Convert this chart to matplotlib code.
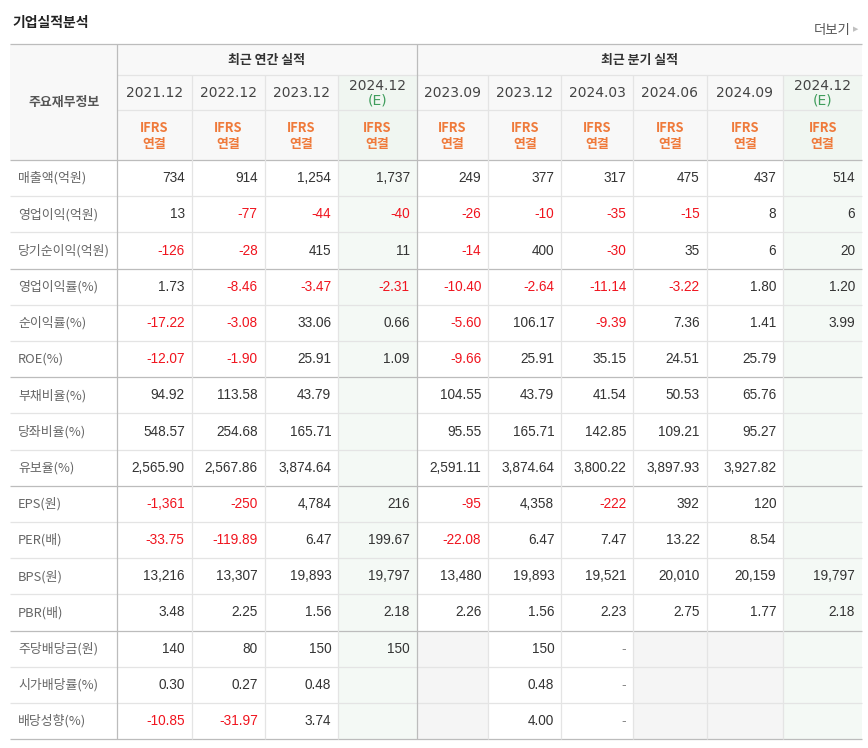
import matplotlib
matplotlib.use("Agg")
import matplotlib.pyplot as plt
from matplotlib.patches import Rectangle

plt.rcParams['font.family'] = ['Noto Sans CJK KR', 'DejaVu Sans']

# ---------------- data ----------------
title = "기업실적분석"
more_label = "더보기"
annual_group = "최근 연간 실적"
quarter_group = "최근 분기 실적"
corner_label = "주요재무정보"
annual_periods = ["2021.12", "2022.12", "2023.12", "2024.12"]
quarter_periods = ["2023.09", "2023.12", "2024.03", "2024.06", "2024.09", "2024.12"]
annual_estimate = [False, False, False, True]
quarter_estimate = [False, False, False, False, False, True]
basis_label = "IFRS\n연결"

row_labels = ["매출액(억원)", "영업이익(억원)", "당기순이익(억원)",
              "영업이익률(%)", "순이익률(%)", "ROE(%)",
              "부채비율(%)", "당좌비율(%)", "유보율(%)",
              "EPS(원)", "PER(배)", "BPS(원)", "PBR(배)",
              "주당배당금(원)", "시가배당률(%)", "배당성향(%)"]
row_decimals = [0, 0, 0, 2, 2, 2, 2, 2, 2, 0, 2, 0, 2, 0, 2, 2]
group_ends = [3, 6, 9, 13, 16]

sales       = [734, 914, 1254, 1737, 249, 377, 317, 475, 437, 514]
op_income   = [13, -77, -44, -40, -26, -10, -35, -15, 8, 6]
net_income  = [-126, -28, 415, 11, -14, 400, -30, 35, 6, 20]
op_margin   = [1.73, -8.46, -3.47, -2.31, -10.40, -2.64, -11.14, -3.22, 1.80, 1.20]
net_margin  = [-17.22, -3.08, 33.06, 0.66, -5.60, 106.17, -9.39, 7.36, 1.41, 3.99]
roe         = [-12.07, -1.90, 25.91, 1.09, -9.66, 25.91, 35.15, 24.51, 25.79, None]
debt_ratio  = [94.92, 113.58, 43.79, None, 104.55, 43.79, 41.54, 50.53, 65.76, None]
quick_ratio = [548.57, 254.68, 165.71, None, 95.55, 165.71, 142.85, 109.21, 95.27, None]
reserve     = [2565.90, 2567.86, 3874.64, None, 2591.11, 3874.64, 3800.22, 3897.93, 3927.82, None]
eps         = [-1361, -250, 4784, 216, -95, 4358, -222, 392, 120, None]
per         = [-33.75, -119.89, 6.47, 199.67, -22.08, 6.47, 7.47, 13.22, 8.54, None]
bps         = [13216, 13307, 19893, 19797, 13480, 19893, 19521, 20010, 20159, 19797]
pbr         = [3.48, 2.25, 1.56, 2.18, 2.26, 1.56, 2.23, 2.75, 1.77, 2.18]
dps         = [140, 80, 150, 150, None, 150, '-', None, None, None]
div_yield   = [0.30, 0.27, 0.48, None, None, 0.48, '-', None, None, None]
payout      = [-10.85, -31.97, 3.74, None, None, 4.00, '-', None, None, None]

table_rows = [sales, op_income, net_income, op_margin, net_margin, roe,
              debt_ratio, quick_ratio, reserve, eps, per, bps, pbr,
              dps, div_yield, payout]

# ---------------- layout / style ----------------
W, H = 868, 748
x_left = 10
label_w = 107.3
col_w = [74.4, 73.0, 73.6, 78.4, 71.6, 73.0, 72.0, 73.4, 76.6, 78.7]
y_top = 44
y_group = 75
y_date = 110
y_head = 160
row_h = 36.2

C_HEAD_BG = "#f8f8f8"
C_EST_HEAD = "#f0f6f1"
C_EST_BG = "#f4f9f5"
C_EMPTY = "#f5f5f5"
C_MAJOR = "#bcbcbc"
C_MINOR = "#e4e4e4"
C_TEXT = "#333333"
C_LABEL = "#666666"
C_RED = "#f0141e"
C_ORANGE = "#ef7a3b"
C_GREEN = "#3f9d5c"

fig = plt.figure(figsize=(W / 100, H / 100), dpi=100)
ax = fig.add_axes([0, 0, 1, 1])
ax.set_xlim(0, W)
ax.set_ylim(H, 0)
ax.axis("off")

col_x = [x_left + label_w]
for w in col_w:
    col_x.append(col_x[-1] + w)
x_right = col_x[-1]
n_annual = len(annual_periods)
estimates = annual_estimate + quarter_estimate
periods = annual_periods + quarter_periods
n_rows = len(row_labels)
y_bottom = y_head + n_rows * row_h

def hline(y, x0, x1, c):
    ax.plot([x0, x1], [y, y], color=c, lw=0.9, solid_capstyle="butt", zorder=3)

def vline(x, y0, y1, c):
    ax.plot([x, x], [y0, y1], color=c, lw=0.9, solid_capstyle="butt", zorder=3)

# header background
ax.add_patch(Rectangle((x_left, y_top), x_right - x_left, y_head - y_top,
                       facecolor=C_HEAD_BG, edgecolor="none", zorder=1))
for j, est in enumerate(estimates):
    if est:
        ax.add_patch(Rectangle((col_x[j], y_group), col_w[j], y_head - y_group,
                               facecolor=C_EST_HEAD, edgecolor="none", zorder=1.5))
        ax.add_patch(Rectangle((col_x[j], y_head), col_w[j], y_bottom - y_head,
                               facecolor=C_EST_BG, edgecolor="none", zorder=1.5))

# empty cell backgrounds
for i, row in enumerate(table_rows):
    for j, v in enumerate(row):
        if v is None and not estimates[j]:
            ax.add_patch(Rectangle((col_x[j], y_head + i * row_h), col_w[j], row_h,
                                   facecolor=C_EMPTY, edgecolor="none", zorder=1.5))

# grid lines
hline(y_top, x_left, x_right, C_MAJOR)
hline(y_group, col_x[0], x_right, C_MINOR)
hline(y_date, col_x[0], x_right, C_MINOR)
hline(y_head, x_left, x_right, C_MAJOR)
for i in range(1, n_rows + 1):
    y = y_head + i * row_h
    hline(y, x_left, x_right, C_MAJOR if i in group_ends else C_MINOR)
for j in range(1, len(col_w)):
    if j == n_annual:
        vline(col_x[j], y_top, y_bottom, C_MAJOR)
    else:
        vline(col_x[j], y_group, y_bottom, C_MINOR)
vline(col_x[0], y_top, y_bottom, C_MAJOR)

# title
ax.text(12, 23, title, fontsize=10, fontweight="bold", color="#222222",
        ha="left", va="center")
ax.text(850, 29.5, more_label, fontsize=9.6, color="#555555", ha="right", va="center")
ax.text(853, 29.5, "▶", fontsize=5, color="#c0c0c0", ha="left", va="center",
        family=["DejaVu Sans"])

# header texts
ax.text((x_left + col_x[0]) / 2, (y_top + y_head) / 2, corner_label, fontsize=9.3,
        fontweight="bold", color="#555555", ha="center", va="center")
ax.text((col_x[0] + col_x[n_annual]) / 2, (y_top + y_group) / 2, annual_group,
        fontsize=9.3, fontweight="bold", color=C_TEXT, ha="center", va="center")
ax.text((col_x[n_annual] + x_right) / 2, (y_top + y_group) / 2, quarter_group,
        fontsize=9.3, fontweight="bold", color=C_TEXT, ha="center", va="center")
basis_top, basis_bottom = basis_label.split("\n")
for j, p in enumerate(periods):
    cx = col_x[j] + col_w[j] / 2
    if estimates[j]:
        ax.text(cx, y_group + 10.5, p, fontsize=10, color="#444444", ha="center",
                va="center", family=["DejaVu Sans"])
        ax.text(cx, y_group + 25.5, "(E)", fontsize=10, color=C_GREEN, ha="center",
                va="center", family=["DejaVu Sans"])
    else:
        ax.text(cx, (y_group + y_date) / 2, p, fontsize=10, color="#444444",
                ha="center", va="center", family=["DejaVu Sans"])
    cy = (y_date + y_head) / 2
    ax.text(cx, cy - 7.5, basis_top, fontsize=9.3, fontweight="bold",
            color=C_ORANGE, ha="center", va="center")
    ax.text(cx, cy + 8.5, basis_bottom, fontsize=9.3, fontweight="bold",
            color=C_ORANGE, ha="center", va="center")

# body
for i, (lab, row, dec) in enumerate(zip(row_labels, table_rows, row_decimals)):
    cy = y_head + (i + 0.5) * row_h
    ax.text(18, cy, lab, fontsize=9.3, color=C_LABEL, ha="left", va="center")
    for j, v in enumerate(row):
        if v is None:
            continue
        if v == '-':
            s, c = '-', "#888888"
        else:
            s = f"{v:,.{dec}f}"
            c = C_RED if v < 0 else C_TEXT
        ax.text(col_x[j + 1] - 7, cy, s, fontsize=9.8, color=c, ha="right",
                va="center", family=["Liberation Sans", "DejaVu Sans"])

fig.savefig("out.png", dpi=100, facecolor="white")
